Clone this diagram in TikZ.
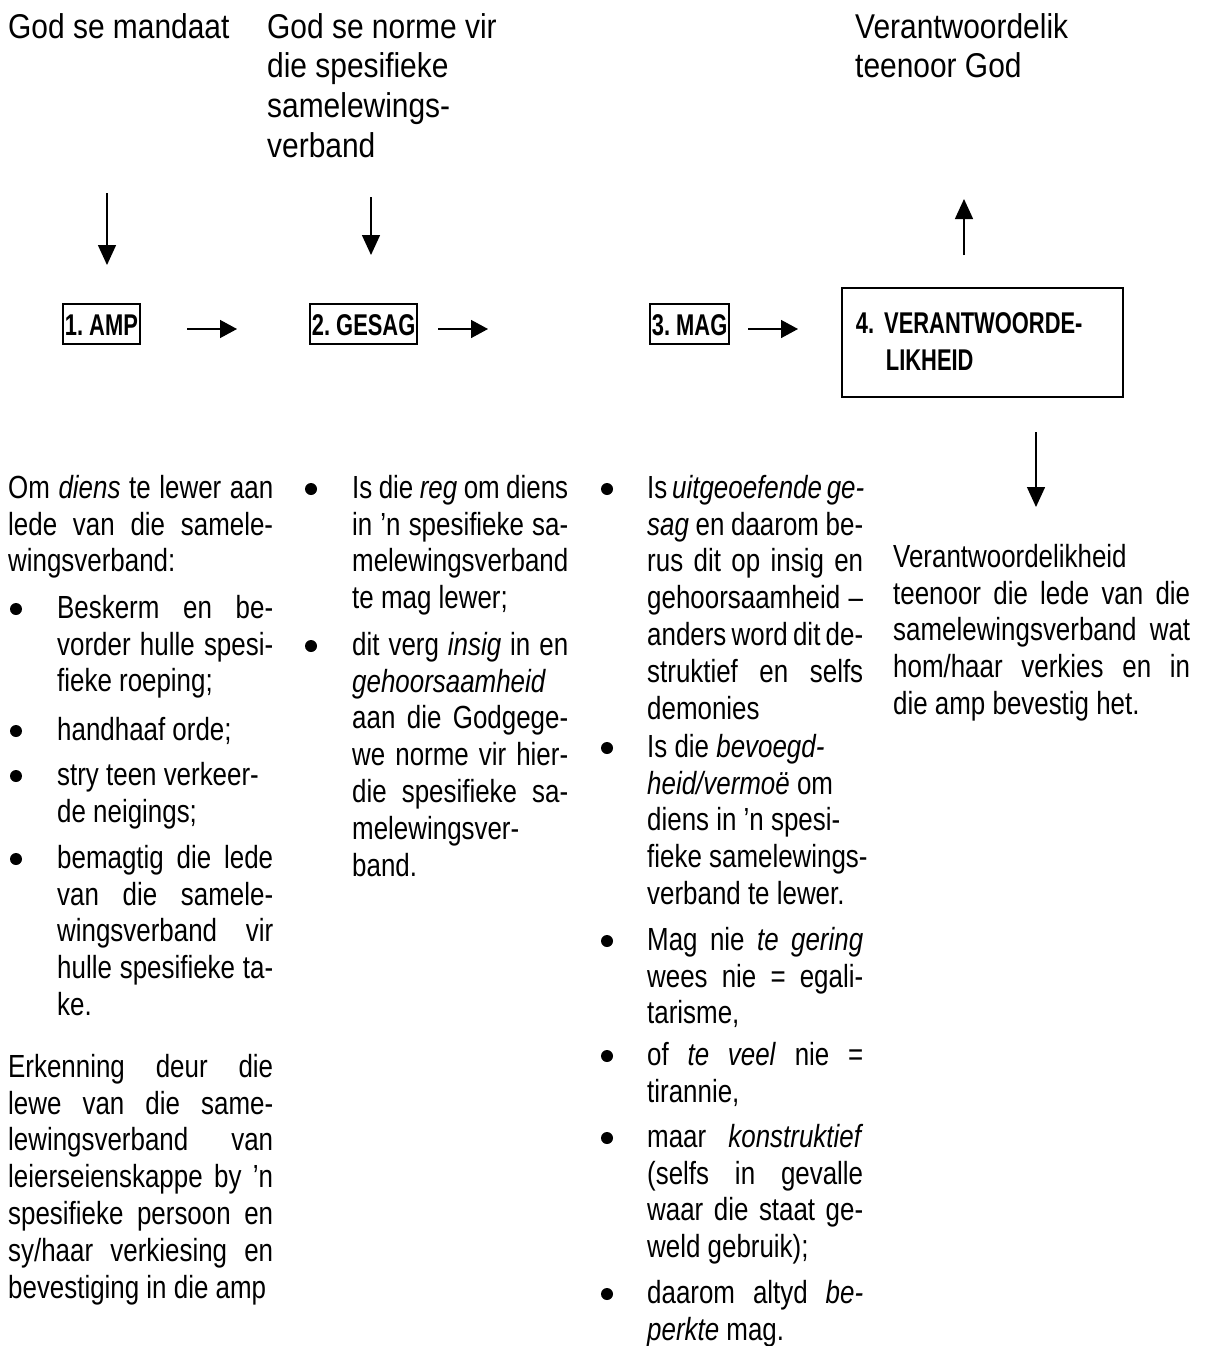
\documentclass[tikz,border=0pt]{standalone}
\usepackage{fontspec}
\setmainfont[FakeStretch=0.81]{Liberation Sans}
\newfontfamily\headfamily[FakeStretch=0.87]{Liberation Sans}
\newfontfamily\labelfamily[FakeStretch=0.73]{Liberation Sans}
\usetikzlibrary{arrows.meta}
\frenchspacing

\newcommand\headfont{\headfamily\fontsize{34.4pt}{39.6pt}\selectfont}
\newcommand\bodyfont{\fontsize{32pt}{36.8pt}\selectfont}
\newcommand\labelfont{\labelfamily\bfseries\fontsize{30pt}{37pt}\selectfont}
% strut fixing the first baseline below the node top
\newcommand\fl[1][36pt]{\rule{0pt}{#1}}
% justified line
\newcommand\jl[2][216pt]{\makebox[#1][s]{#2}}

\begin{document}
\begin{tikzpicture}[x=1pt, y=-1pt,
  head/.style={anchor=north west, inner sep=0pt, align=left, font=\headfont},
  body/.style={anchor=north west, inner sep=0pt, align=left, font=\bodyfont},
  stage/.style={draw, line width=1.8pt, anchor=base west, inner xsep=2pt, inner ysep=0pt,
    text height=31pt, text depth=9pt, font=\labelfont},
  flow/.style={line width=1.5pt, -{Triangle[length=20pt, width=18pt]}},
  flowh/.style={line width=1.5pt, -{Triangle[length=17pt, width=18pt]}}]

\useasboundingbox (0,0) rectangle (1205,1346);

% Headings
\node[head] (mandaat) at (8,2) {\fl God se mandaat};
\node[head] (norme) at (267,2) {\fl God se norme vir\\die spesifieke\\samelewings-\\verband};
\node[head] (voorgod) at (855,2) {\fl Verantwoordelik\\teenoor God};

% Stages
\node[stage] (amp) at (62,335) {1. AMP};
\node[stage] (gesag) at (309,335) {2. GESAG};
\node[stage] (mag) at (649,335) {3. MAG};
\node[draw, line width=1.8pt, anchor=north west, inner xsep=14pt, inner ysep=0pt,
  minimum height=109pt, text width=253pt, align=left, font=\labelfont] (verant) at (841,287)
  {\rule{0pt}{46pt}4. VERANTWOORDE-\\\hspace*{30pt}LIKHEID\rule[-26pt]{0pt}{26pt}};

% Arrow ends
\coordinate (mandaat-s) at (107,193);
\coordinate (mandaat-e) at (107,265);
\coordinate (norme-s) at (371,197);
\coordinate (norme-e) at (371,255);
\coordinate (voorgod-s) at (964,255);
\coordinate (voorgod-e) at (964,199);
\coordinate (lede-s) at (1036,432);
\coordinate (lede-e) at (1036,507);
\coordinate (amp-e) at (187,329);
\coordinate (gesag-w) at (237,329);
\coordinate (gesag-e) at (438,329);
\coordinate (mag-w) at (488,329);
\coordinate (mag-e) at (748,329);
\coordinate (verant-w) at (798,329);

% Arrows
\draw[flow] (mandaat-s) -- (mandaat-e);
\draw[flow] (norme-s) -- (norme-e);
\draw[flow] (voorgod-s) -- (voorgod-e);
\draw[flow] (lede-s) -- (lede-e);
\draw[flowh] (amp-e) -- (gesag-w);
\draw[flowh] (gesag-e) -- (mag-w);
\draw[flowh] (mag-e) -- (verant-w);

% Column 1: amp
\node[body] (diens) at (8,462) {\fl\jl[265pt]{Om \textit{diens} te lewer aan}\\
  \jl[265pt]{lede van die samele-}\\wingsverband:};
\node[body] (beskerm) at (57,582) {\fl\jl{Beskerm en be-}\\\jl{vorder hulle spesi-}\\fieke roeping;};
\node[body] (orde) at (57,704) {\fl handhaaf orde;};
\node[body] (stry) at (57,749) {\fl stry teen verkeer-\\de neigings;};
\node[body] (bemagtig) at (57,832) {\fl\jl{bemagtig die lede}\\\jl{van die samele-}\\
  \jl{wingsverband vir}\\\jl{hulle spesifieke ta-}\\ke.};
\node[body] (erkenning) at (8,1041) {\fl\jl[265pt]{Erkenning deur die}\\
  \jl[265pt]{lewe van die same-}\\\jl[265pt]{lewingsverband van}\\
  \jl[265pt]{leierseienskappe by ’n}\\\jl[265pt]{spesifieke persoon en}\\
  \jl[265pt]{sy/haar verkiesing en}\\bevestiging in die amp};

% Column 2: gesag
\node[body] (reg) at (352,462) {\fl\jl{Is die \textit{reg} om diens}\\\jl{in ’n spesifieke sa-}\\
  melewingsverband\\te mag lewer;};
\node[body] (insig) at (352,619) {\fl\jl{dit verg \textit{insig} in en}\\\textit{gehoorsaamheid}\\
  \jl{aan die Godgege-}\\\jl{we norme vir hier-}\\\jl{die spesifieke sa-}\\melewingsver-\\band.};

% Column 3: mag
\node[body] (uitgeoefen) at (647,462) {\fl\jl{Is \textit{uitgeoefende ge-}}\\
  \jl{\textit{sag} en daarom be-}\\\jl{rus dit op insig en}\\\jl{gehoorsaamheid –}\\
  \jl{anders word dit de-}\\\jl{struktief en selfs}\\demonies};
\node[body] (bevoegd) at (647,721) {\fl Is die \textit{bevoegd-}\\\textit{heid/vermoë} om\\
  diens in ’n spesi-\\fieke samelewings-\\verband te lewer.};
\node[body] (gering) at (647,914) {\fl\jl{Mag nie \textit{te gering}}\\\jl{wees nie = egali-}\\tarisme,};
\node[body] (veel) at (647,1029) {\fl\jl{of \textit{te veel} nie =}\\tirannie,};
\node[body] (konstruk) at (647,1111) {\fl\jl{maar \textit{konstruktief}}\\\jl{(selfs in gevalle}\\
  \jl{waar die staat ge-}\\weld gebruik);};
\node[body] (beperk) at (647,1267) {\fl\jl{daarom altyd \textit{be-}}\\\textit{perkte} mag.};

% Column 4: verantwoordelikheid
\node[body] (lede) at (893,531) {\fl Verantwoordelikheid\\\jl[297pt]{teenoor die lede van die}\\
  \jl[297pt]{samelewingsverband wat}\\\jl[297pt]{hom/haar verkies en in}\\die amp bevestig het.};

% Bullets
\foreach \bx/\by in {16/618, 16/740, 16/785, 16/868, 311/498, 311/655,
    607/498, 607/757, 607/950, 607/1065, 607/1147, 607/1303}
  \fill (\bx,{\by-9}) circle (6pt);

\end{tikzpicture}
\end{document}
